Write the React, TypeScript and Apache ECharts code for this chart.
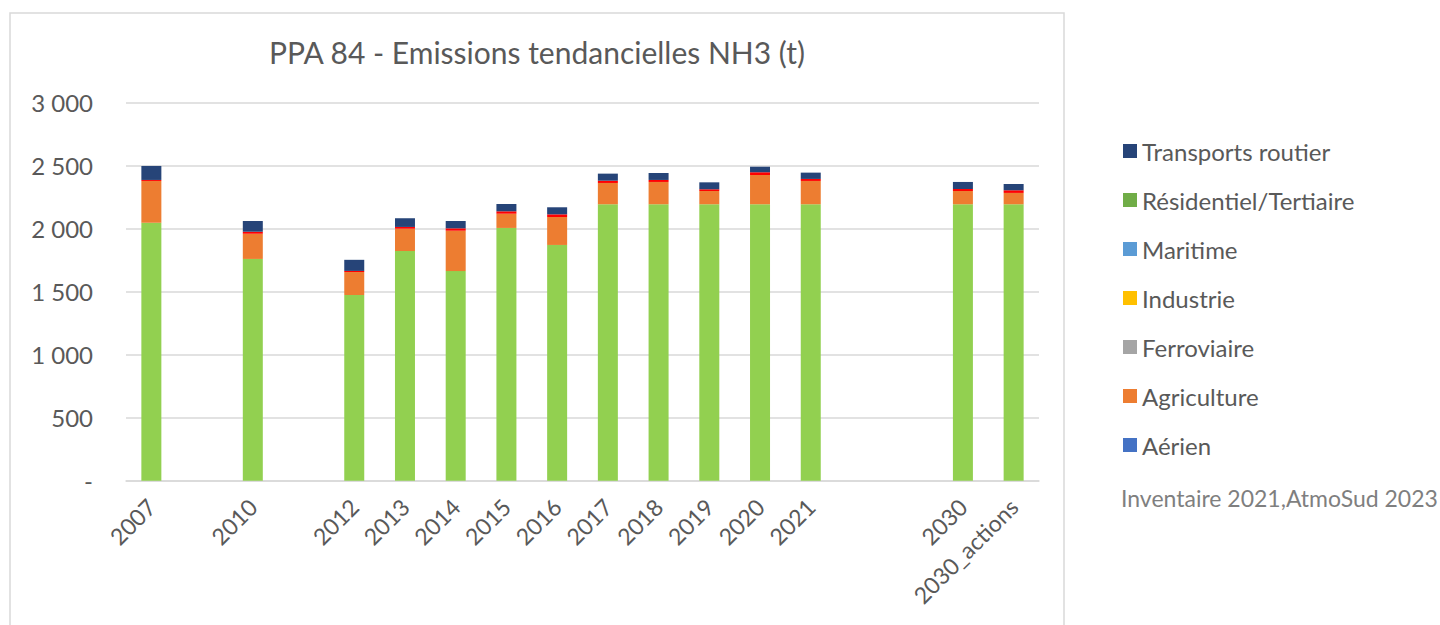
import React, { useEffect, useRef } from "react";
import * as echarts from "echarts";

const categories = ["2007", "", "2010", "", "2012", "2013", "2014", "2015", "2016", "2017", "2018", "2019", "2020", "2021", "", "", "2030", "2030_actions"];
// bottom light green segment (not in legend)
const baseGreen = [2048, null, 1760, null, 1474, 1823, 1664, 2006, 1871, 2194, 2194, 2194, 2194, 2194, null, null, 2194, 2194];
const agriculture = [331, null, 200, null, 182, 177, 320, 113, 222, 169, 177, 105, 232, 185, null, null, 105, 90];
// thin red segment (not in legend)
const redThin = [8, null, 16, null, 9, 14, 19, 19, 21, 18, 16, 14, 22, 16, null, null, 16, 21];
const transports = [111, null, 85, null, 88, 69, 58, 58, 56, 56, 55, 55, 44, 50, null, null, 56, 50];
const zeros = [0, null, 0, null, 0, 0, 0, 0, 0, 0, 0, 0, 0, 0, null, null, 0, 0];

const legendNames = ["Transports routier", "Résidentiel/Tertiaire", "Maritime", "Industrie", "Ferroviaire", "Agriculture", "Aérien"];
const sourceText = "Inventaire 2021,AtmoSud 2023";
const titleText = "PPA 84 - Emissions tendancielles NH3 (t)";

const FONT = "Lato, 'Open Sans', sans-serif";
const GREY = "#595959";

export default function App() {
  const ref = useRef<HTMLDivElement>(null);
  useEffect(() => {
    if (!ref.current) return;
    const chart = echarts.init(ref.current, null, { renderer: "svg" });
    const mk = (name: string, data: (number | null)[], color: string) => ({
      name,
      type: "bar",
      stack: "total",
      data,
      barWidth: 20,
      itemStyle: { color },
      emphasis: { disabled: true },
    });
    chart.setOption({
      animation: false,
      textStyle: { fontFamily: FONT },
      grid: { left: 126, right: 401, top: 102.7, bottom: 144.3, containLabel: false },
      legend: {
        orient: "vertical",
        left: 1118,
        top: 134,
        data: legendNames,
        icon: "rect",
        itemWidth: 14,
        itemHeight: 14,
        itemGap: 25,
        selectedMode: false,
        textStyle: { color: GREY, fontSize: 24, fontFamily: FONT, lineHeight: 24, padding: [0, 0, 0, 0] },
      },
      graphic: [
        {
          type: "rect",
          shape: { x: 10, y: 13, width: 1054, height: 700 },
          style: { fill: "none", stroke: "#d9d9d9", lineWidth: 1.5 },
          silent: true,
        },
        {
          type: "text",
          x: 537,
          y: 52,
          style: { text: titleText, fill: GREY, fontSize: 30, fontFamily: FONT, textAlign: "center", textVerticalAlign: "middle" },
        },
        {
          type: "text",
          x: 1121,
          y: 498,
          style: { text: sourceText, fill: "#7f7f7f", fontSize: 23, fontFamily: FONT, textAlign: "left", textVerticalAlign: "middle" },
        },
      ],
      xAxis: {
        type: "category",
        data: categories,
        axisLine: { lineStyle: { color: "#d9d9d9", width: 1.5 } },
        axisTick: { show: false },
        axisLabel: { rotate: 45, color: GREY, fontSize: 23, fontFamily: FONT, margin: 22, interval: 0 },
      },
      yAxis: {
        type: "value",
        min: 0,
        max: 3000,
        interval: 500,
        axisLine: { show: false },
        axisTick: { show: false },
        splitLine: { lineStyle: { color: "#d9d9d9", width: 1.5 } },
        axisLabel: {
          color: GREY,
          fontSize: 24,
          fontFamily: FONT,
          margin: 33,
          formatter: (v: number) => (v === 0 ? "-" : String(v).replace(/\B(?=(\d{3})+(?!\d))/g, " ")),
        },
      },
      series: [
        mk("base", baseGreen, "#92D050"),
        mk("Aérien", zeros, "#4472C4"),
        mk("Agriculture", agriculture, "#ED7D31"),
        mk("Ferroviaire", zeros, "#A5A5A5"),
        mk("Industrie", zeros, "#FFC000"),
        mk("Maritime", zeros, "#5B9BD5"),
        mk("autre", redThin, "#FF0000"),
        mk("Résidentiel/Tertiaire", zeros, "#70AD47"),
        mk("Transports routier", transports, "#264478"),
      ],
    });
    return () => chart.dispose();
  }, []);
  return <div ref={ref} style={{ position: "fixed", left: 0, top: 0, width: 1440, height: 625, background: "#fff" }} />;
}
